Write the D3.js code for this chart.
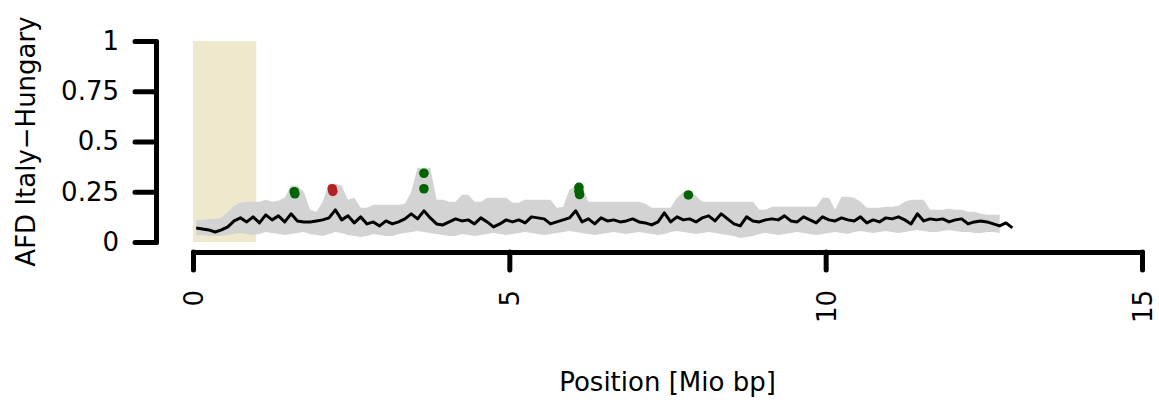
<!DOCTYPE html>
<html>
<head>
<meta charset="utf-8">
<script src="https://cdn.jsdelivr.net/npm/d3@7/dist/d3.min.js"></script>
<style>
  html, body { margin: 0; padding: 0; background: #fff; }
  svg { display: block; }
</style>
</head>
<body>
<svg id="chart" width="1159" height="408"></svg>
<script>
// window centres along the chromosome, Mio bp
const pos = [
  0.05, 0.15, 0.25, 0.35, 0.45, 0.55, 0.65, 0.75, 0.85, 0.95,
  1.05, 1.15, 1.25, 1.35, 1.45, 1.55, 1.65, 1.75, 1.85, 1.95,
  2.05, 2.15, 2.25, 2.35, 2.45, 2.55, 2.65, 2.75, 2.85, 2.95,
  3.05, 3.15, 3.25, 3.35, 3.45, 3.55, 3.65, 3.75, 3.85, 3.95,
  4.05, 4.15, 4.25, 4.35, 4.45, 4.55, 4.65, 4.75, 4.85, 4.95,
  5.05, 5.15, 5.25, 5.35, 5.45, 5.55, 5.65, 5.75, 5.85, 5.95,
  6.05, 6.15, 6.25, 6.35, 6.45, 6.55, 6.65, 6.75, 6.85, 6.95,
  7.05, 7.15, 7.25, 7.35, 7.45, 7.55, 7.65, 7.75, 7.85, 7.95,
  8.05, 8.15, 8.25, 8.35, 8.45, 8.55, 8.65, 8.75, 8.85, 8.95,
  9.05, 9.15, 9.25, 9.35, 9.45, 9.55, 9.65, 9.75, 9.85, 9.95,
  10.05, 10.15, 10.25, 10.35, 10.45, 10.55, 10.65, 10.75, 10.85, 10.95,
  11.05, 11.15, 11.25, 11.35, 11.45, 11.55, 11.65, 11.75, 11.85, 11.95,
  12.05, 12.15, 12.25, 12.35, 12.45, 12.55, 12.65, 12.75, 12.85, 12.95
]
// mean AFD per window
const afdMean = [
  .07, .065, .06, .05, .06, .075, .105, .12, .10, .125,
  .095, .135, .11, .13, .10, .14, .105, .10, .10, .105,
  .11, .12, .16, .11, .13, .095, .125, .09, .10, .08,
  .105, .09, .10, .115, .14, .115, .155, .12, .09, .085,
  .10, .115, .105, .11, .09, .12, .10, .075, .09, .11,
  .10, .11, .095, .125, .12, .115, .09, .10, .11, .12,
  .155, .10, .115, .09, .12, .105, .11, .10, .105, .115,
  .10, .095, .085, .10, .145, .10, .125, .11, .115, .10,
  .12, .13, .105, .14, .115, .09, .08, .125, .105, .10,
  .11, .115, .11, .13, .105, .10, .125, .11, .095, .125,
  .11, .105, .12, .11, .105, .125, .095, .11, .10, .12,
  .115, .125, .11, .09, .14, .105, .115, .11, .115, .10,
  .11, .115, .09, .10, .105, .10, .09, .08, .095, .07
]
// spread band (first 128 windows)
const bandLow = [
  .035, .035, .03, .03, .03, .035, .04, .045, .04, .035,
  .04, .05, .045, .04, .035, .04, .045, .05, .04, .035,
  .03, .04, .05, .045, .035, .03, .025, .03, .04, .035,
  .03, .03, .04, .045, .05, .055, .05, .045, .04, .035,
  .03, .03, .04, .035, .03, .035, .04, .045, .04, .035,
  .04, .045, .05, .045, .04, .035, .04, .045, .05, .055,
  .05, .045, .04, .035, .04, .045, .05, .045, .04, .045,
  .05, .045, .04, .035, .04, .05, .055, .05, .045, .04,
  .045, .05, .045, .04, .035, .03, .02, .025, .03, .04,
  .045, .04, .035, .04, .045, .05, .045, .04, .035, .04,
  .045, .05, .045, .04, .05, .055, .05, .045, .05, .055,
  .05, .045, .05, .055, .06, .055, .05, .05, .055, .06,
  .055, .05, .05, .045, .045, .05, .05, .045
]
const bandHigh = [
  .11, .11, .115, .115, .12, .15, .18, .195, .2, .2,
  .2, .21, .2, .205, .22, .28, .28, .25, .16, .15,
  .2, .29, .29, .28, .21, .22, .17, .17, .185, .185,
  .185, .185, .185, .19, .25, .37, .37, .37, .21, .21,
  .2, .2, .235, .235, .2, .2, .22, .22, .22, .22,
  .195, .195, .21, .21, .21, .21, .21, .17, .175, .26,
  .28, .28, .2, .2, .2, .2, .2, .2, .2, .2,
  .2, .19, .17, .17, .17, .17, .22, .25, .25, .23,
  .2, .2, .2, .2, .2, .2, .2, .2, .2, .16,
  .16, .175, .175, .175, .175, .175, .175, .175, .175, .22,
  .22, .16, .225, .225, .22, .2, .17, .17, .17, .175,
  .175, .18, .2, .21, .21, .21, .16, .16, .16, .165,
  .16, .16, .15, .15, .14, .135, .135, .135
]
// outlier SNPs
const hitPos = [1.6, 1.61, 2.2, 2.21, 3.65, 3.65, 6.1, 6.1, 6.11, 7.83]
const hitAfd = [0.25, 0.24, 0.265, 0.252, 0.342, 0.265, 0.272, 0.252, 0.236, 0.234]
const hitType = ["sig", "sig", "top", "top", "sig", "sig", "sig", "sig", "sig", "sig"]
// masked region
const maskStart = 0
const maskEnd = 1.0

const xTicks = [0, 5, 10, 15]
const yTicks = [0, 0.25, 0.5, 0.75, 1]
const yTickLabels = ["0", "0.25", "0.5", "0.75", "1"]

const FONT = "'DejaVu Sans', sans-serif"
const svg = d3.select("#chart")

const x = d3.scaleLinear().domain([0, 15]).range([193, 1142])
const y = d3.scaleLinear().domain([0, 1]).range([242, 41])

// masked region
svg.append("rect")
  .attr("x", x(maskStart))
  .attr("y", y(1))
  .attr("width", x(maskEnd) - x(maskStart))
  .attr("height", y(0) - y(1))
  .attr("fill", "#EEE8CD")

// band
const area = d3.area()
  .x((d, i) => x(pos[i]))
  .y0((d, i) => y(bandLow[i]))
  .y1(d => y(d))
svg.append("path")
  .datum(bandHigh)
  .attr("d", area)
  .attr("fill", "#D3D3D3")

// mean line
const line = d3.line()
  .x((d, i) => x(pos[i]))
  .y(d => y(d))
svg.append("path")
  .datum(afdMean)
  .attr("d", line)
  .attr("fill", "none")
  .attr("stroke", "#000")
  .attr("stroke-width", 3)
  .attr("stroke-linejoin", "round")

// points
svg.append("g")
  .selectAll("circle")
  .data(hitPos)
  .join("circle")
  .attr("cx", d => x(d))
  .attr("cy", (d, i) => y(hitAfd[i]))
  .attr("r", 4.8)
  .attr("fill", (d, i) => hitType[i] == "top" ? "#B22222" : "#006400")

// y axis
const axisY = svg.append("g")
  .attr("transform", "translate(156,0)")
  .call(d3.axisLeft(y).tickValues(yTicks)
    .tickFormat((d, i) => yTickLabels[i])
    .tickSize(21).tickSizeOuter(0).tickPadding(16))
axisY.select(".domain").attr("stroke-width", 5).attr("stroke-linecap", "round")
axisY.selectAll(".tick line").attr("stroke-width", 5).attr("stroke-linecap", "round")
axisY.selectAll(".tick text")
  .style("font-family", FONT).style("font-size", "26px").attr("fill", "#000")

// x axis
const axisX = svg.append("g")
  .attr("transform", "translate(0,252)")
  .call(d3.axisBottom(x).tickValues(xTicks).tickSize(18).tickSizeOuter(0))
axisX.select(".domain").attr("stroke-width", 5).attr("stroke-linecap", "round")
axisX.selectAll(".tick line").attr("stroke-width", 5).attr("stroke-linecap", "round")
axisX.selectAll(".tick text")
  .attr("transform", "rotate(-90)")
  .attr("x", -38)
  .attr("y", 0)
  .attr("dy", "0.36em")
  .attr("text-anchor", "end")
  .style("font-family", FONT).style("font-size", "26px").attr("fill", "#000")

// titles
svg.append("text")
  .attr("transform", "translate(35,141.5) rotate(-90)")
  .attr("text-anchor", "middle")
  .style("font-family", FONT).style("font-size", "26px")
  .text("AFD Italy\u2212Hungary")

svg.append("text")
  .attr("x", 667.5)
  .attr("y", 391)
  .attr("text-anchor", "middle")
  .style("font-family", FONT).style("font-size", "26px")
  .text("Position [Mio bp]")
</script>
</body>
</html>
